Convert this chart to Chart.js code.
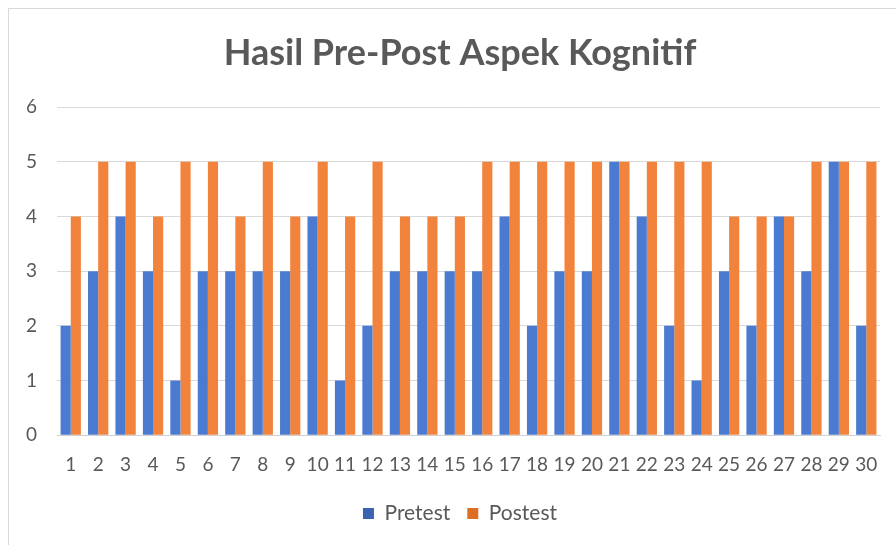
<!DOCTYPE html>
<html>
<head>
<meta charset="utf-8">
<script src="https://cdn.jsdelivr.net/npm/chart.js@4"></script>
<style>
  html, body { margin: 0; padding: 0; background: #fff; }
  #wrap { position: relative; width: 896px; height: 545px; overflow: hidden; }
  #frame { position: absolute; left: 8px; top: 8px; width: 940px; height: 600px;
           border-left: 1px solid #d9d9d9; border-top: 1px solid #d9d9d9; }
  #chart { position: absolute; left: 0; top: 0; }
</style>
</head>
<body>
<div id="wrap">
  <div id="frame"></div>
  <canvas id="chart" width="914" height="545"></canvas>
</div>
<script>
var students = ['1','2','3','4','5','6','7','8','9','10','11','12','13','14','15',
  '16','17','18','19','20','21','22','23','24','25','26','27','28','29','30'];
var pretest = [2,3,4,3,1,3,3,3,3,4,1,2,3,3,3,3,4,2,3,3,5,4,2,1,3,2,4,3,5,2];
var postest = [4,5,5,4,5,5,4,5,4,5,4,5,4,4,4,5,5,5,5,5,5,5,5,5,4,4,4,5,5,5];
var yTicks = [0,1,2,3,4,5,6];

var fontName = 'Lato, "Open Sans", sans-serif';
var grey = '#595959';

// soft sideways shading like the office chart bars
var shade = function(base, edge) {
  return function(ctx) {
    var el = ctx.element;
    if (!el || el.width === undefined || !isFinite(el.x)) return base;
    var half = el.width / 2;
    var g = ctx.chart.ctx.createLinearGradient(el.x - half, 0, el.x + half, 0);
    g.addColorStop(0, edge);
    g.addColorStop(0.45, base);
    g.addColorStop(1, edge);
    return g;
  };
};

var data = {
  labels: students,
  datasets: [
    {
      label: 'Pretest',
      data: pretest,
      backgroundColor: shade('#4a7bd0', '#3a64b0'),
      borderWidth: 0
    },
    {
      label: 'Postest',
      data: postest,
      backgroundColor: shade('#f2833c', '#dd6f24'),
      borderWidth: 0
    }
  ]
};

// the original chart runs past the right edge of the picture,
// so an empty right axis keeps the plot short of the canvas edge
new Chart(document.getElementById('chart'), {
  type: 'bar',
  data: data,
  options: {
    responsive: false,
    animation: false,
    layout: { padding: { left: 6, right: 0, top: 18, bottom: 11 } },
    datasets: { bar: { categoryPercentage: 0.74, barPercentage: 1.0 } },
    plugins: {
      title: {
        display: true,
        text: 'Hasil Pre-Post Aspek Kognitif',
        color: grey,
        font: { family: fontName, size: 36, weight: 'bold' },
        padding: { top: 14, bottom: 32 }
      },
      legend: {
        position: 'bottom',
        labels: {
          color: grey,
          font: { family: fontName, size: 21 },
          boxWidth: 11,
          boxHeight: 11,
          padding: 17
        }
      },
      tooltip: { enabled: false }
    },
    scales: {
      x: {
        grid: { display: false },
        border: { color: '#d0d0d0' },
        ticks: {
          color: grey,
          font: { family: fontName, size: 19 },
          maxRotation: 0,
          autoSkip: false,
          padding: 10
        }
      },
      y: {
        min: 0,
        max: 6,
        afterBuildTicks: function(axis) {
          axis.ticks = yTicks.map(function(v) { return { value: v }; });
        },
        grid: { color: '#d9d9d9', drawTicks: false },
        border: { display: false },
        ticks: {
          color: grey,
          font: { family: fontName, size: 19 },
          padding: 20
        }
      },
      spacer: {
        position: 'right',
        min: 0,
        max: 6,
        grid: { display: false },
        border: { display: false },
        ticks: { display: false },
        afterFit: function(axis) { axis.width = 34; }
      }
    }
  }
});
</script>
</body>
</html>
